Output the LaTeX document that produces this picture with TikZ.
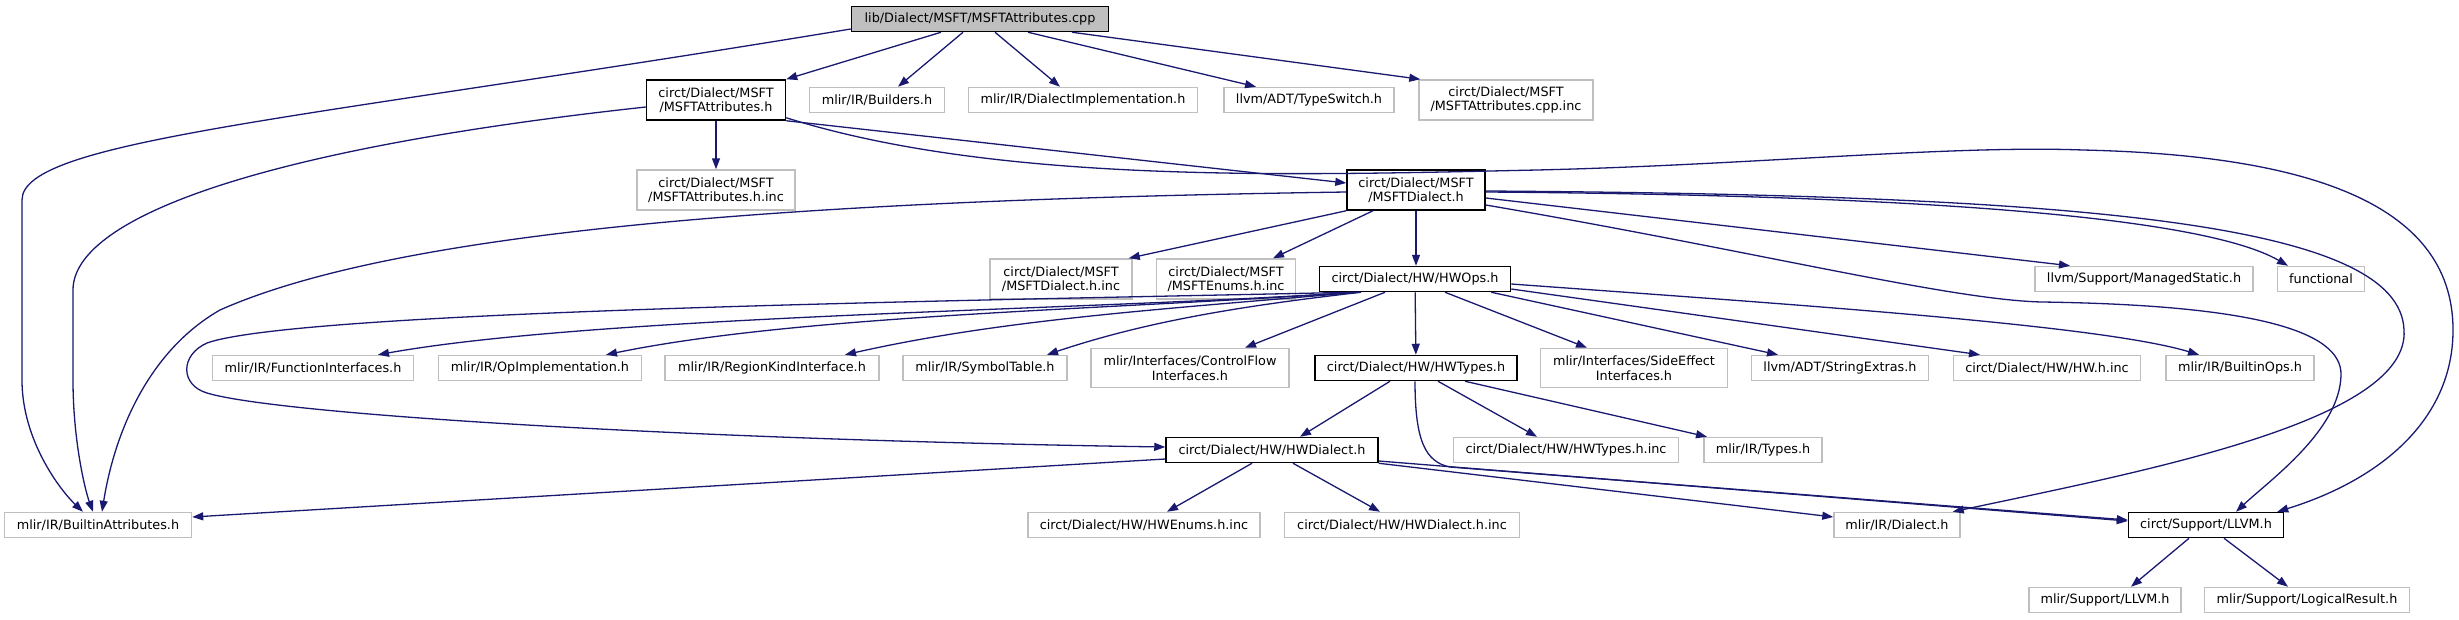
\documentclass[tikz,border=0pt]{standalone}
\usepackage{fontspec}
\setmainfont{DejaVu Sans}
\usetikzlibrary{arrows.meta, positioning, calc}
\definecolor{navyedge}{RGB}{25, 25, 112}
\definecolor{extgray}{RGB}{191, 191, 191}

\begin{document}
\begin{tikzpicture}[
    x=1pt, y=-1pt,
    >={Triangle[length=11pt, width=8pt]},
    nodebox/.style={rectangle, inner sep=0pt, minimum height=25pt, align=center,
      font=\fontsize{12.8}{14.5}\selectfont, fill=white},
    doc/.style={nodebox, draw=black, line width=1.5pt},
    ext/.style={nodebox, draw=extgray, line width=1.5pt},
    rootbox/.style={doc, fill=extgray},
    dep/.style={->, draw=navyedge, fill=none, line width=1.3pt}
  ]
  \useasboundingbox (0,0) rectangle (2459,619);

  % row 0 and 1
  \node[rootbox, minimum width=257pt] (root) at (980,19) {lib/Dialect/MSFT/MSFTAttributes.cpp};
  \node[doc, minimum width=139pt, minimum height=40pt] (mattr) at (716,100) {circt/Dialect/MSFT\\/MSFTAttributes.h};
  \node[ext, minimum width=135pt] (builders) at (877,100) {mlir/IR/Builders.h};
  \node[ext, minimum width=229pt] (dimpl) at (1083,100) {mlir/IR/DialectImplementation.h};
  \node[ext, minimum width=170pt] (tswitch) at (1309,100) {llvm/ADT/TypeSwitch.h};
  \node[ext, minimum width=174pt, minimum height=40pt] (cppinc) at (1506,100) {circt/Dialect/MSFT\\/MSFTAttributes.cpp.inc};

  % row 2 and 3
  \node[ext, minimum width=158pt, minimum height=40pt] (mattrinc) at (716,190) {circt/Dialect/MSFT\\/MSFTAttributes.h.inc};
  \node[doc, minimum width=138pt, minimum height=40pt] (mdialect) at (1416,190) {circt/Dialect/MSFT\\/MSFTDialect.h};
  \node[ext, minimum width=142pt, minimum height=40pt] (mdialinc) at (1061,279) {circt/Dialect/MSFT\\/MSFTDialect.h.inc};
  \node[ext, minimum width=139pt, minimum height=40pt] (menums) at (1226,279) {circt/Dialect/MSFT\\/MSFTEnums.h.inc};
  \node[doc, minimum width=191pt] (hwops) at (1415,279) {circt/Dialect/HW/HWOps.h};
  \node[ext, minimum width=218pt] (mstatic) at (2144,279) {llvm/Support/ManagedStatic.h};
  \node[ext, minimum width=87pt] (functional) at (2321,279) {functional};

  % row 4
  \node[ext, minimum width=201pt] (funcif) at (313,368) {mlir/IR/FunctionInterfaces.h};
  \node[ext, minimum width=203pt] (opimpl) at (540,368) {mlir/IR/OpImplementation.h};
  \node[ext, minimum width=214pt] (regkind) at (772,368) {mlir/IR/RegionKindInterface.h};
  \node[ext, minimum width=164pt] (symtab) at (985,368) {mlir/IR/SymbolTable.h};
  \node[ext, minimum width=198pt, minimum height=39pt] (cflow) at (1190,368) {mlir/Interfaces/ControlFlow\\Interfaces.h};
  \node[doc, minimum width=202pt] (hwtypes) at (1416,368) {circt/Dialect/HW/HWTypes.h};
  \node[ext, minimum width=187pt, minimum height=39pt] (seffect) at (1634,368) {mlir/Interfaces/SideEffect\\Interfaces.h};
  \node[ext, minimum width=177pt] (strext) at (1840,368) {llvm/ADT/StringExtras.h};
  \node[ext, minimum width=187pt] (hwinc) at (2047,368) {circt/Dialect/HW/HW.h.inc};
  \node[ext, minimum width=148pt] (bops) at (2240,368) {mlir/IR/BuiltinOps.h};

  % row 5 to 7
  \node[doc, minimum width=212pt] (hwdialect) at (1272,450) {circt/Dialect/HW/HWDialect.h};
  \node[ext, minimum width=225pt] (hwtypesinc) at (1566,450) {circt/Dialect/HW/HWTypes.h.inc};
  \node[ext, minimum width=118pt] (types) at (1763,450) {mlir/IR/Types.h};
  \node[ext, minimum width=187pt] (battr) at (98,525) {mlir/IR/BuiltinAttributes.h};
  \node[ext, minimum width=232pt] (hwenums) at (1144,525) {circt/Dialect/HW/HWEnums.h.inc};
  \node[ext, minimum width=235pt] (hwdialinc) at (1402,525) {circt/Dialect/HW/HWDialect.h.inc};
  \node[ext, minimum width=126pt] (dialect) at (1897,525) {mlir/IR/Dialect.h};
  \node[doc, minimum width=155pt] (cllvm) at (2206,525) {circt/Support/LLVM.h};
  \node[ext, minimum width=152pt] (mllvm) at (2105,600) {mlir/Support/LLVM.h};
  \node[ext, minimum width=205pt] (lresult) at (2307,600) {mlir/Support/LogicalResult.h};

  % edges of the source file
  \draw[dep] ([xshift=-39]root.south) -- (mattr.north east);
  \draw[dep] ([xshift=-17]root.south) -- ([xshift=21]builders.north);
  \draw[dep] ([xshift=15]root.south) -- ([xshift=-23]dimpl.north);
  \draw[dep] ([xshift=48]root.south) -- ([xshift=-53]tswitch.north);
  \draw[dep] ([xshift=92]root.south) -- ([xshift=2]cppinc.north west);
  \draw[dep] ([yshift=-10]root.west) .. controls (300,120) and (22,140) .. (22,200)
    -- (22,380) .. controls (22,440) and (60,490) .. ([xshift=-15]battr.north);

  % MSFTAttributes.h
  \draw[dep] (mattr) -- (mattrinc);
  \draw[dep] ([yshift=-7]mattr.west) .. controls (250,150) and (73,220) .. (73,290)
    -- (73,380) .. controls (73,440) and (85,490) .. ([xshift=-5]battr.north);
  \draw[dep] (mattr.south east) -- ([yshift=7]mdialect.west);
  \draw[dep] ([yshift=3]mattr.south east) .. controls (1000,185) and (1300,175) .. (1537,170)
    .. controls (1750,165) and (1950,145) .. (2083,150)
    .. controls (2300,155) and (2453,200) .. (2453,330)
    .. controls (2453,420) and (2380,480) .. ([xshift=-7]cllvm.north east);

  % MSFTDialect.h
  \draw[dep] ([yshift=-2]mdialect.west) .. controls (800,200) and (400,230) .. (220,310)
    .. controls (150,350) and (115,430) .. ([xshift=4]battr.north);
  \draw[dep] (mdialect.south west) -- ([xshift=-4]mdialinc.north east);
  \draw[dep] ([xshift=-43]mdialect.south) -- ([xshift=47]menums.north);
  \draw[dep] (mdialect.south) -- (mdialect.south |- hwops.north);
  \draw[dep] ([yshift=-8]mdialect.east) -- ([xshift=-74]mstatic.north);
  \draw[dep] ([yshift=-2]mdialect.east) .. controls (1900,195) and (2200,215) .. ([xshift=-33]functional.north);
  \draw[dep] ([yshift=-1]mdialect.east) .. controls (2100,195) and (2400,225) .. (2404,330)
    .. controls (2410,420) and (2150,470) .. ([xshift=-8]dialect.north east);
  \draw[dep] ([yshift=-15]mdialect.east) .. controls (1750,250) and (1950,300) .. (2042,302)
    .. controls (2250,305) and (2342,330) .. (2341,375)
    .. controls (2340,430) and (2270,480) .. ([xshift=30]cllvm.north);

  % HWOps.h
  \draw[dep] ([xshift=-60]hwops.south) .. controls (1100,310) and (600,315) .. ([xshift=65]funcif.north);
  \draw[dep] ([xshift=-58]hwops.south) .. controls (1100,310) and (800,315) .. ([xshift=66]opimpl.north);
  \draw[dep] ([xshift=-56]hwops.south) .. controls (1150,310) and (1000,320) .. ([xshift=73]regkind.north);
  \draw[dep] ([xshift=-54]hwops.south) .. controls (1250,305) and (1150,320) .. ([xshift=62]symtab.north);
  \draw[dep] ([xshift=-30]hwops.south) -- ([xshift=55]cflow.north);
  \draw[dep] (hwops) -- (hwtypes);
  \draw[dep] ([xshift=30]hwops.south) -- ([xshift=-47]seffect.north);
  \draw[dep] ([xshift=-20]hwops.south east) -- ([xshift=-62]strext.north);
  \draw[dep] ([yshift=-10]hwops.east) -- ([xshift=-67]hwinc.north);
  \draw[dep] ([yshift=-5]hwops.east) .. controls (1800,305) and (2100,325) .. ([xshift=-41]bops.north);
  \draw[dep] ([xshift=-62]hwops.south) .. controls (1000,300) and (300,310) .. (207,343)
    .. controls (180,355) and (180,385) .. (207,393)
    .. controls (280,415) and (700,440) .. ([yshift=3]hwdialect.west);

  % HWTypes.h
  \draw[dep] ([xshift=-26]hwtypes.south) -- ([xshift=28]hwdialect.north);
  \draw[dep] ([xshift=22]hwtypes.south) -- ([xshift=-29]hwtypesinc.north);
  \draw[dep] ([xshift=49]hwtypes.south) -- ([xshift=-56]types.north);
  \draw[dep] ([xshift=-1]hwtypes.south) .. controls (1415,440) and (1425,462) .. (1450,467)
    -- ([yshift=5]cllvm.west);

  % HWDialect.h
  \draw[dep] ([yshift=-9]hwdialect.west) -- ([yshift=8]battr.east);
  \draw[dep] ([xshift=-20]hwdialect.south) -- ([xshift=23]hwenums.north);
  \draw[dep] ([xshift=21]hwdialect.south) -- ([xshift=-22]hwdialinc.north);
  \draw[dep] (hwdialect.south east) -- ([yshift=8]dialect.west);
  \draw[dep] ([yshift=-11]hwdialect.east) -- ([yshift=4]cllvm.west);

  % circt/Support/LLVM.h
  \draw[dep] ([xshift=-17]cllvm.south) -- ([xshift=26]mllvm.north);
  \draw[dep] ([xshift=18]cllvm.south) -- ([xshift=-19]lresult.north);
\end{tikzpicture}
\end{document}
